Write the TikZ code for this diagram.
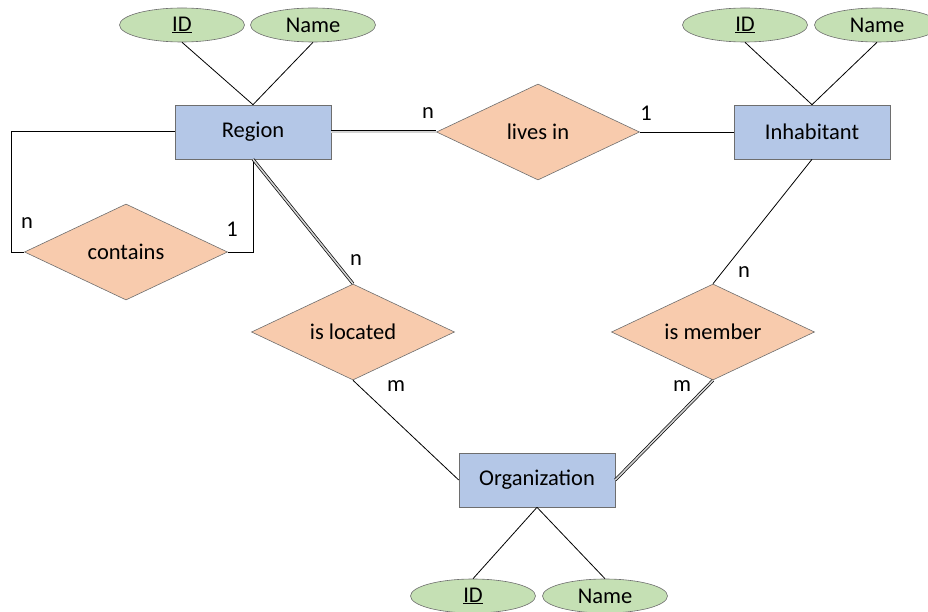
\documentclass[tikz,border=0pt]{standalone}
\usepackage{fontspec}
\setmainfont{Carlito}
\usetikzlibrary{shapes.geometric}
\definecolor{entfill}{HTML}{B4C7E7}
\definecolor{relfill}{HTML}{F8CBAD}
\definecolor{attfill}{HTML}{C5E0B4}
\definecolor{edgegray}{HTML}{6E6E6E}
\begin{document}
\begin{tikzpicture}[x=1pt,y=-1pt,
  entity/.style={draw=edgegray, fill=entfill, line width=0.6pt, minimum width=156pt, minimum height=54pt, inner sep=0pt, font=\fontsize{22.5}{26}\selectfont},
  relation/.style={diamond, aspect=2, draw=edgegray, fill=relfill, line width=0.6pt, minimum width=203pt, minimum height=96pt, inner sep=0pt, font=\fontsize{22.5}{26}\selectfont},
  attrib/.style={ellipse, draw=edgegray, fill=attfill, line width=0.6pt, minimum width=125pt, minimum height=34pt, inner sep=0pt, font=\fontsize{22.5}{26}\selectfont},
  card/.style={inner sep=0pt, font=\fontsize{22.5}{26}\selectfont},
  conn/.style={black, line width=0.8pt},
  dbl/.style={black, line width=0.7pt, double=edgegray!30, double distance=1.6pt}]
  \useasboundingbox (0,0) rectangle (928,612);
  \clip (0,0) rectangle (928,612);

  % entities
  \node[entity] (region) at (253,132) {Region};
  \node[entity] (inhab) at (812,132) {Inhabitant};
  \node[entity] (org) at (537,480) {Organization};

  % relationships
  \node[relation] (lives) at (538,132) {lives in};
  \node[relation] (contains) at (126,252) {contains};
  \node[relation] (located) at (353,332) {is located};
  \node[relation] (member) at (713,332) {is member};

  % attributes
  \node[attrib] (regID) at (182,25) {\underline{ID}};
  \node[attrib] (regName) at (313,25) {Name};
  \node[attrib] (inhID) at (745,25) {\underline{ID}};
  \node[attrib] (inhName) at (877,25) {Name};
  \node[attrib] (orgID) at (473,596) {\underline{ID}};
  \node[attrib] (orgName) at (605,596) {Name};

  \draw[conn] (regID.south) -- (region.north);
  \draw[conn] (regName.south) -- (region.north);
  \draw[conn] (inhID.south) -- (inhab.north);
  \draw[conn] (inhName.south) -- (inhab.north);
  \draw[conn] (orgID.north) -- (org.south);
  \draw[conn] (orgName.north) -- (org.south);

  % connectors
  \coordinate (bendL) at (11,131);
  \draw[conn] (region.west |- bendL) -- (bendL) |- (contains.west);
  \draw[conn] (contains.east) -| (region.south);
  \draw[dbl] (region.east) -- (lives.west);
  \draw[conn] (lives.east) -- (inhab.west);
  \draw[dbl] (region.south) -- (located.north);
  \draw[conn] (located.south) -- (org.west);
  \draw[conn] (inhab.south) -- (member.north);
  \draw[dbl] (member.south) -- (org.east);

  % cardinalities
  \node[card] (cLivN) at (428,113) {n};
  \node[card] (cLiv1) at (646,113) {1};
  \node[card] (cConN) at (27,223) {n};
  \node[card] (cCon1) at (232,229) {1};
  \node[card] (cLocN) at (356,260) {n};
  \node[card] (cLocM) at (396,386) {m};
  \node[card] (cMemN) at (744,272) {n};
  \node[card] (cMemM) at (682,386) {m};
\end{tikzpicture}
\end{document}
